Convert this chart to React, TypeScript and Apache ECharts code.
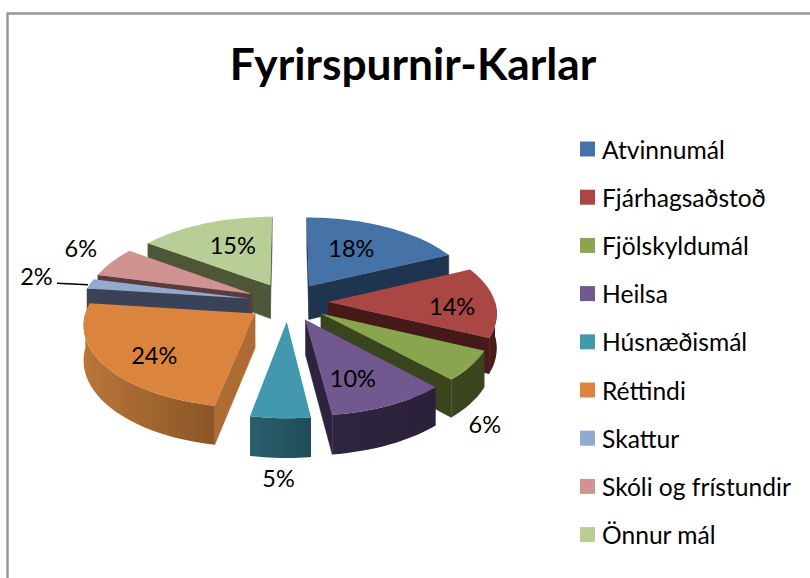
import React, { useEffect, useRef } from "react";
import * as echarts from "echarts";

const categories = ["Atvinnumál", "Fjárhagsaðstoð", "Fjölskyldumál", "Heilsa", "Húsnæðismál", "Réttindi", "Skattur", "Skóli og frístundir", "Önnur mál"];
const values = [18, 14, 6, 10, 5, 24, 2, 6, 15];

const topColors = ["#4572A7", "#AA4643", "#89A54E", "#71588F", "#4198AF", "#DB843D", "#93A9CF", "#D19392", "#B9CD96"];
const faceColors = ["#1E344F", "#451A18", "#3A451E", "#2E233E", "#26545F", "#AE6B32", "#3A4257", "#5A3C3C", "#4E5638"];
const wallLeft = ["#1E344F", "#4A1C1A", "#3A451E", "#2F2540", "#2A5F6D", "#B9763A", "#3A4257", "#5A3C3C", "#4E5638"];
const wallRight = ["#1E344F", "#451A18", "#3A451E", "#2A2039", "#1F4B58", "#8A5527", "#3A4257", "#5A3C3C", "#4E5638"];

// label placement relative to each slice: degrees from the mid angle, fraction of the radius
const labelShift = [-4.8, 3.9, 19.2, 4.6, -0.1, -4.1, 1.4, 3.6, 2];
const labelRadius = [0.59, 0.73, 1.4, 0.68, 1.51, 0.73, 1.37, 1.3, 0.62];
const leaderIndex = 6;

const CX = 288, CY = 302, R = 167, EXPLODE = 40, DEPTH = 34, PERSP = 0.0007, TILT = 0.48;
const LABEL_DX = 1.5;
const RAD = Math.PI / 180;

const total = values.reduce((a, b) => a + b, 0);
const spans = values.map((_, i) => {
  const before = values.slice(0, i).reduce((a, b) => a + b, 0);
  return [(before / total) * 360, ((before + values[i]) / total) * 360];
});
const dir = (deg: number) => [Math.sin(deg * RAD), -Math.cos(deg * RAD)];
const project = (u: number, v: number, down = 0) => {
  const w = 1 / (1 - PERSP * v);
  return [CX + u * w, CY + TILT * v * w + down * w];
};
const apexOf = (i: number) => {
  const mid = (spans[i][0] + spans[i][1]) / 2;
  const d = dir(mid);
  return [d[0] * EXPLODE, d[1] * EXPLODE];
};
const rimPoint = (i: number, deg: number, r = R, down = 0) => {
  const a = apexOf(i);
  const d = dir(deg);
  return project(a[0] + d[0] * r, a[1] + d[1] * r, down);
};
const arcAngles = (a0: number, a1: number) => {
  const n = Math.max(2, Math.ceil((a1 - a0) / 2));
  return Array.from({ length: n + 1 }, (_, k) => a0 + ((a1 - a0) * k) / n);
};
const cross = (a: number[], b: number[]) => a[0] * b[1] - a[1] * b[0];

const depthRank = values.map((_, i) => i).sort((a, b) => apexOf(a)[1] - apexOf(b)[1]);

function renderSlice(i: number) {
  const [a0, a1] = spans[i];
  const apex = apexOf(i);
  const A = project(apex[0], apex[1]);
  const Abot = project(apex[0], apex[1], DEPTH);
  const mid = rimPoint(i, (a0 + a1) / 2);
  const children: any[] = [];

  [a0, a1].forEach((deg) => {
    const B = rimPoint(i, deg);
    const Bbot = rimPoint(i, deg, R, DEPTH);
    const e = [B[0] - A[0], B[1] - A[1]];
    const inside = cross(e, [mid[0] - A[0], mid[1] - A[1]]);
    const below = cross(e, [0, 1]);
    if (Math.sign(inside) !== Math.sign(below)) {
      children.push({
        type: "polygon",
        shape: { points: [A, B, Bbot, Abot] },
        style: { fill: faceColors[i], stroke: faceColors[i], lineWidth: 0.5 },
      });
    }
  });

  const w0 = Math.max(a0, 90), w1 = Math.min(a1, 270);
  if (w1 > w0) {
    const angs = arcAngles(w0, w1);
    children.push({
      type: "polygon",
      shape: {
        points: [
          ...angs.map((d) => rimPoint(i, d)),
          ...angs.slice().reverse().map((d) => rimPoint(i, d, R, DEPTH)),
        ],
      },
      style: {
        fill: new echarts.graphic.LinearGradient(0, 0, 1, 0, [
          { offset: 0, color: wallLeft[i] },
          { offset: 1, color: wallRight[i] },
        ]),
      },
    });
  }

  children.push({
    type: "polygon",
    shape: { points: [A, ...arcAngles(a0, a1).map((d) => rimPoint(i, d))] },
    style: { fill: topColors[i] },
  });

  const labelAt = rimPoint(i, (a0 + a1) / 2 + labelShift[i], labelRadius[i] * R);
  if (i === leaderIndex) {
    children.push({
      type: "line",
      shape: { x1: labelAt[0] + 22, y1: labelAt[1] + 7, x2: mid[0] - 2, y2: mid[1] + 1 },
      style: { stroke: "#000", lineWidth: 1.5 },
    });
  }
  children.push({
    type: "text",
    x: labelAt[0] + LABEL_DX,
    y: labelAt[1],
    style: {
      text: values[i] + "%",
      x: 0,
      y: 0,
      align: "center",
      verticalAlign: "middle",
      fontFamily: "Lato",
      fontSize: 23.5,
      fill: "#000",
    },
  });
  return { type: "group", children };
}

export default function App() {
  const ref = useRef<HTMLDivElement>(null);
  useEffect(() => {
    document.body.style.margin = "0";
    const chart = echarts.init(ref.current!, undefined, { renderer: "svg" });
    chart.setOption({
      animation: false,
      backgroundColor: "#fff",
      title: {
        text: "Fyrirspurnir-Karlar",
        left: 408,
        top: 35,
        textAlign: "center",
        textStyle: { fontFamily: "Lato", fontSize: 44.3, fontWeight: "bold", color: "#000" },
      },
      legend: {
        orient: "vertical",
        left: 580,
        top: 134,
        padding: 0,
        itemWidth: 15,
        itemHeight: 15,
        itemGap: 18.2,
        icon: "rect",
        selectedMode: false,
        data: categories,
        textStyle: { fontFamily: "Lato", fontSize: 24.6, lineHeight: 30, color: "#000", padding: [0, 0, 0, 2] },
      },
      graphic: [
        {
          type: "polyline",
          silent: true,
          shape: { points: [[7.5, 590], [7.5, 13.5], [820, 13.5]] },
          style: { fill: "none", stroke: "#969696", lineWidth: 2.4 },
          z: -1,
        },
      ],
      series: categories.map((name, i) => ({
        type: "custom",
        name,
        coordinateSystem: "none",
        silent: true,
        z: 2 + depthRank.indexOf(i),
        itemStyle: { color: topColors[i] },
        data: [[values[i]]],
        renderItem: () => renderSlice(i),
      })),
    });
    return () => chart.dispose();
  }, []);
  return <div ref={ref} style={{ width: 810, height: 578, position: "absolute", left: 0, top: 0 }} />;
}
